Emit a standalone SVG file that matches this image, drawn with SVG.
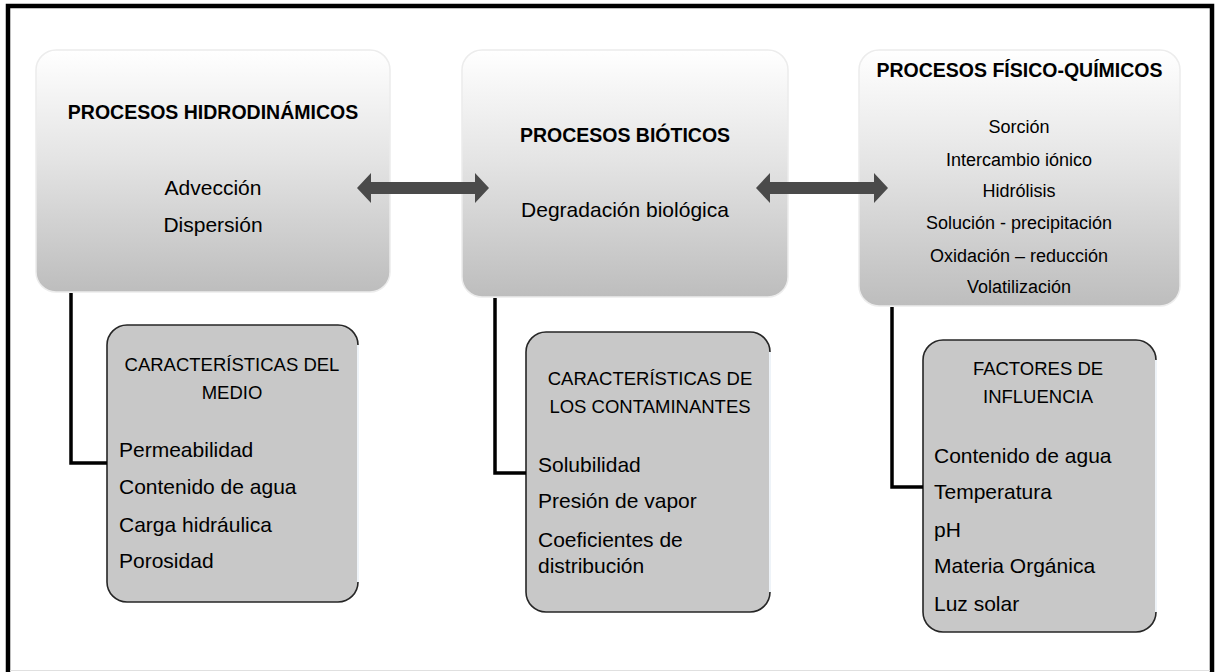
<svg xmlns="http://www.w3.org/2000/svg" width="1217" height="672" viewBox="0 0 1217 672">
  <defs>
    <linearGradient id="topGrad" x1="0" y1="0" x2="0" y2="1">
      <stop offset="0" stop-color="#ffffff"/>
      <stop offset="0.45" stop-color="#e4e4e4"/>
      <stop offset="1" stop-color="#bdbdbd"/>
    </linearGradient>
    <style>
      .top { fill: url(#topGrad); stroke: #ececec; stroke-width: 1.5; }
      .bot { fill: #c8c8c8; stroke: #262626; stroke-width: 1.6; }
      .hl { stroke: #eef3f8; stroke-width: 2; fill: none; }
      .t { font-family: "Liberation Sans", Arial, sans-serif; fill: #000; }
      .title { font-size: 19.5px; font-weight: bold; text-anchor: middle; }
      .item { font-size: 21px; }
      .mid { text-anchor: middle; }
      .small { font-size: 18px; text-anchor: middle; }
      .sub { font-size: 18.5px; text-anchor: middle; }
      .wire { fill: none; stroke: #000; stroke-width: 3.5; }
      .arrow { fill: #4a4a4a; stroke: none; }
    </style>
  </defs>
  <rect x="0" y="0" width="1217" height="672" fill="#ffffff"/>
  <path d="M8,675 V6 H1212 V675" fill="none" stroke="#000" stroke-width="4.5"/>
  <line x1="10" y1="670.5" x2="1210" y2="670.5" stroke="#e0e0e0" stroke-width="1"/>

  <g id="hidrodinamicos">
    <rect class="top" x="36" y="50" width="354" height="242" rx="20"/>
    <text class="t title" x="213" y="119">PROCESOS HIDRODINÁMICOS</text>
    <text class="t item mid" x="213" y="195">Advección</text>
    <text class="t item mid" x="213" y="232">Dispersión</text>
  </g>

  <g id="bioticos">
    <rect class="top" x="462" y="50" width="326" height="247" rx="20"/>
    <text class="t title" x="625" y="142">PROCESOS BIÓTICOS</text>
    <text class="t item mid" x="625" y="217">Degradación biológica</text>
  </g>

  <g id="fisicoquimicos">
    <rect class="top" x="859" y="50" width="321" height="256" rx="20"/>
    <text class="t title" x="1019.5" y="77">PROCESOS FÍSICO-QUÍMICOS</text>
    <text class="t small" x="1019" y="133">Sorción</text>
    <text class="t small" x="1019" y="166">Intercambio iónico</text>
    <text class="t small" x="1019" y="197">Hidrólisis</text>
    <text class="t small" x="1019" y="229">Solución - precipitación</text>
    <text class="t small" x="1019" y="262">Oxidación – reducción</text>
    <text class="t small" x="1019" y="293">Volatilización</text>
  </g>

  <g id="medio">
    <rect class="bot" x="107" y="325" width="251" height="277" rx="20"/>
    <line class="hl" x1="358" y1="345" x2="358" y2="582"/>
    <text class="t sub" x="232" y="371">CARACTERÍSTICAS DEL</text>
    <text class="t sub" x="232" y="399">MEDIO</text>
    <text class="t item" x="119" y="457">Permeabilidad</text>
    <text class="t item" x="119" y="494">Contenido de agua</text>
    <text class="t item" x="119" y="532">Carga hidráulica</text>
    <text class="t item" x="119" y="568">Porosidad</text>
  </g>

  <g id="contaminantes">
    <rect class="bot" x="526" y="332" width="244" height="280" rx="20"/>
    <line class="hl" x1="770" y1="352" x2="770" y2="592"/>
    <text class="t sub" x="650" y="385">CARACTERÍSTICAS DE</text>
    <text class="t sub" x="650" y="413">LOS CONTAMINANTES</text>
    <text class="t item" x="538" y="472">Solubilidad</text>
    <text class="t item" x="538" y="508">Presión de vapor</text>
    <text class="t item" x="538" y="547">Coeficientes de</text>
    <text class="t item" x="538" y="573">distribución</text>
  </g>

  <g id="influencia">
    <rect class="bot" x="923" y="340" width="233" height="292" rx="20"/>
    <line class="hl" x1="1156" y1="360" x2="1156" y2="612"/>
    <text class="t sub" x="1038" y="375">FACTORES DE</text>
    <text class="t sub" x="1038" y="403">INFLUENCIA</text>
    <text class="t item" x="934" y="463">Contenido de agua</text>
    <text class="t item" x="934" y="499">Temperatura</text>
    <text class="t item" x="934" y="537">pH</text>
    <text class="t item" x="934" y="573">Materia Orgánica</text>
    <text class="t item" x="934" y="611">Luz solar</text>
  </g>

  <g id="connectors">
    <path class="wire" d="M71,293 V463 H107"/>
    <path class="wire" d="M495,298 V473 H526"/>
    <path class="wire" d="M892,307 V487 H923"/>
    <polygon class="arrow" points="357,188 371,173 371,182 475,182 475,173 489,188 475,203 475,194 371,194 371,203"/>
    <polygon class="arrow" points="756,188 770,173 770,182 874,182 874,173 888,188 874,203 874,194 770,194 770,203"/>
  </g>
</svg>
